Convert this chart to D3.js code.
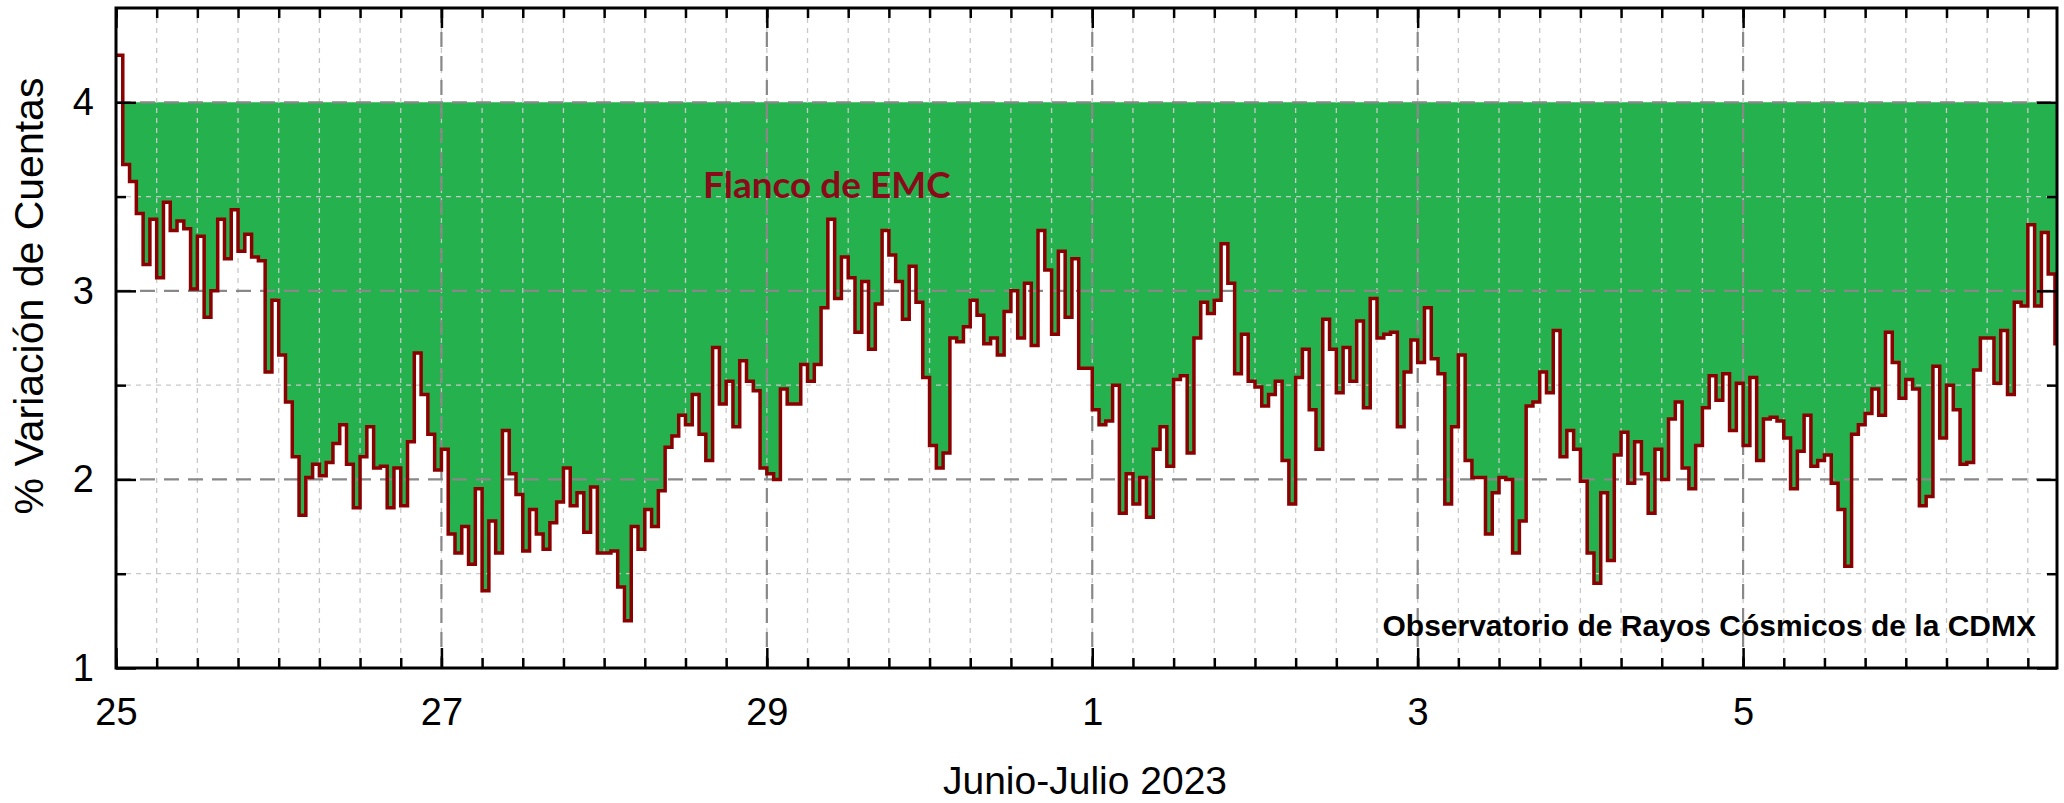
<!DOCTYPE html>
<html>
<head>
<meta charset="utf-8">
<script src="https://cdnjs.cloudflare.com/ajax/libs/d3/7.8.5/d3.min.js"></script>
<style>
  body { margin: 0; background: #fff; }
  svg { display: block; }
</style>
</head>
<body>
<div id="viz"></div>
<script>

// hourly % variation, one array per day (Junio 25 ... Julio 6)
var jun25 = [4.25,3.67,3.58,3.41,3.14,3.38,3.07,3.47,3.32,3.37,3.33,3.01,3.29,2.86,3.00,3.38,3.17,3.43,3.21,3.30,3.18,3.16,2.57,2.95];
var jun26 = [2.66,2.41,2.12,1.81,2.01,2.08,2.02,2.09,2.19,2.29,2.08,1.85,2.12,2.28,2.06,2.07,1.85,2.06,1.86,2.20,2.67,2.45,2.24,2.05];
var jun27 = [2.16,1.71,1.61,1.75,1.55,1.95,1.41,1.78,1.61,2.26,2.03,1.92,1.62,1.84,1.71,1.63,1.77,1.88,2.06,1.86,1.93,1.72,1.96,1.61];
var jun28 = [1.61,1.62,1.43,1.25,1.75,1.63,1.84,1.75,1.94,2.17,2.23,2.34,2.29,2.45,2.24,2.10,2.70,2.40,2.52,2.28,2.63,2.52,2.47,2.06];
var jun29 = [2.03,2.00,2.48,2.40,2.40,2.61,2.52,2.61,2.91,3.38,2.96,3.18,3.07,2.78,3.05,2.69,2.93,3.32,3.19,3.05,2.85,3.13,2.94,2.54];
var jun30 = [2.18,2.06,2.14,2.75,2.73,2.81,2.95,2.87,2.72,2.75,2.66,2.89,3.00,2.75,3.04,2.71,3.32,3.11,2.77,3.21,2.86,3.17,2.59,2.59];
var jul01 = [2.37,2.29,2.31,2.50,1.82,2.03,1.87,2.01,1.80,2.16,2.28,2.07,2.53,2.55,2.14,2.75,2.94,2.88,2.95,3.25,3.04,2.56,2.77,2.52];
var jul02 = [2.49,2.39,2.45,2.52,2.10,1.87,2.54,2.69,2.37,2.16,2.85,2.69,2.46,2.70,2.52,2.84,2.38,2.96,2.75,2.77,2.78,2.28,2.57,2.74];
var jul03 = [2.62,2.91,2.64,2.56,1.87,2.28,2.66,2.10,2.01,2.01,1.71,1.93,2.01,2.00,1.61,1.78,2.39,2.41,2.57,2.46,2.79,2.12,2.26,2.16];
var jul04 = [1.99,1.61,1.45,1.93,1.57,2.13,2.25,1.98,2.20,2.03,1.82,2.16,2.00,2.32,2.41,2.06,1.95,2.18,2.38,2.55,2.42,2.56,2.26,2.51];
var jul05 = [2.18,2.54,2.10,2.32,2.33,2.31,2.22,1.95,2.15,2.34,2.07,2.10,2.13,1.98,1.84,1.54,2.24,2.29,2.35,2.48,2.34,2.78,2.62,2.43];
var jul06 = [2.53,2.48,1.86,1.91,2.60,2.22,2.50,2.37,2.08,2.09,2.58,2.75,2.75,2.51,2.79,2.45,2.94,2.92,3.35,2.92,3.31,3.09,2.72];

var days = [jun25, jun26, jun27, jun28, jun29, jun30, jul01, jul02, jul03, jul04, jul05, jul06];
var tick_labels = ["25", "27", "29", "1", "3", "5"];
var y_ticks = [1, 2, 3, 4];
var y_minor = [1.5, 2.5, 3.5];
var base_level = 4;

var W = 2064, H = 803,
    margin = {top: 8, right: 7, bottom: 135, left: 116},
    width = W - margin.left - margin.right,
    height = H - margin.top - margin.bottom;

var t0 = Date.UTC(2023, 5, 25),
    hour = 3600 * 1000,
    t_end = new Date(t0 + 286.3 * hour);

var data = [];
days.forEach(function(day, i){
    day.forEach(function(v, h){
        data.push({t: new Date(t0 + (i * 24 + h) * hour), v: v});
    });
});
// hold the last value until the edge of the plot
var steps = data.concat([{t: t_end, v: data[data.length - 1].v}]);

var x = d3.scaleUtc()
    .domain([new Date(t0), t_end])
    .range([0, width]);

var y = d3.scaleLinear()
    .domain([1, 4.5])
    .range([height, 0]);

var major_dates = tick_labels.map(function(d, i){ return new Date(t0 + i * 48 * hour); });
var minor_dates = d3.utcHour.every(6).range(new Date(t0), t_end);

var svg = d3.select("#viz").append("svg")
        .attr("width", W)
        .attr("height", H)
        .style("font-family", "'Liberation Sans', Arial, sans-serif");

svg.append("defs").append("clipPath")
    .attr("id", "clip")
  .append("rect")
    .attr("width", width)
    .attr("height", height);

var g = svg.append("g")
    .attr("transform", "translate(" + margin.left + "," + margin.top + ")");

var plot = g.append("g").attr("clip-path", "url(#clip)");

// green band between 4 % and the counts
var area = d3.area()
    .curve(d3.curveStepAfter)
    .x(function(d){ return x(d.t); })
    .y0(y(base_level))
    .y1(function(d){ return y(Math.min(d.v, base_level)); });

plot.append("path")
    .datum(steps)
    .attr("d", area)
    .attr("fill", "#25b24e");

// minor grid
plot.selectAll(".gx-minor")
    .data(minor_dates)
  .enter().append("line")
    .attr("x1", function(d){ return x(d); })
    .attr("x2", function(d){ return x(d); })
    .attr("y1", 0)
    .attr("y2", height)
    .attr("stroke", "#c8c8c8")
    .attr("stroke-width", 1.3)
    .attr("stroke-dasharray", "5,5");

plot.selectAll(".gy-minor")
    .data(y_minor)
  .enter().append("line")
    .attr("x1", 0)
    .attr("x2", width)
    .attr("y1", function(d){ return y(d); })
    .attr("y2", function(d){ return y(d); })
    .attr("stroke", "#c8c8c8")
    .attr("stroke-width", 1.3)
    .attr("stroke-dasharray", "5,5");

// major grid
plot.selectAll(".gx-major")
    .data(major_dates)
  .enter().append("line")
    .attr("x1", function(d){ return x(d); })
    .attr("x2", function(d){ return x(d); })
    .attr("y1", 0)
    .attr("y2", height)
    .attr("stroke", "#888")
    .attr("stroke-width", 2.2)
    .attr("stroke-dasharray", "15,9");

plot.selectAll(".gy-major")
    .data(y_ticks)
  .enter().append("line")
    .attr("x1", 0)
    .attr("x2", width)
    .attr("y1", function(d){ return y(d); })
    .attr("y2", function(d){ return y(d); })
    .attr("stroke", "#888")
    .attr("stroke-width", 2.2)
    .attr("stroke-dasharray", "15,9");

// step line
var line = d3.line()
    .curve(d3.curveStepAfter)
    .x(function(d){ return x(d.t); })
    .y(function(d){ return y(d.v); });

plot.append("path")
    .datum(steps)
    .attr("d", line)
    .attr("fill", "none")
    .attr("stroke", "#8b0000")
    .attr("stroke-width", 3.5);

// axes (ticks point inward, mirrored on top and right)
var xb = g.append("g")
    .attr("transform", "translate(0," + height + ")")
    .call(d3.axisBottom(x).tickValues(minor_dates).tickSize(-10).tickFormat(""));
var xb2 = g.append("g")
    .attr("transform", "translate(0," + height + ")")
    .call(d3.axisBottom(x).tickValues(major_dates).tickSize(-20).tickPadding(30)
        .tickFormat(function(d, i){ return tick_labels[i]; }));
var xt = g.append("g")
    .call(d3.axisTop(x).tickValues(minor_dates).tickSize(-10).tickFormat(""));
var xt2 = g.append("g")
    .call(d3.axisTop(x).tickValues(major_dates).tickSize(-20).tickFormat(""));

var yl = g.append("g")
    .call(d3.axisLeft(y).tickValues(y_minor).tickSize(-10).tickFormat(""));
var yl2 = g.append("g")
    .call(d3.axisLeft(y).tickValues(y_ticks).tickSize(-20).tickPadding(22).tickFormat(d3.format("d")));
var yr = g.append("g")
    .attr("transform", "translate(" + width + ",0)")
    .call(d3.axisRight(y).tickValues(y_minor).tickSize(-10).tickFormat(""));
var yr2 = g.append("g")
    .attr("transform", "translate(" + width + ",0)")
    .call(d3.axisRight(y).tickValues(y_ticks).tickSize(-20).tickFormat(""));

[xb, xb2, xt, xt2, yl, yl2, yr, yr2].forEach(function(a){
    a.select(".domain").remove();
    a.selectAll(".tick line").attr("stroke", "#000").attr("stroke-width", 2.5);
    a.selectAll(".tick text")
        .attr("fill", "#000")
        .style("font-family", "'Liberation Sans', Arial, sans-serif")
        .style("font-size", "38px");
});
xb2.selectAll(".tick text").attr("dy", "0.71em");

// frame
g.append("rect")
    .attr("width", width)
    .attr("height", height)
    .attr("fill", "none")
    .attr("stroke", "#000")
    .attr("stroke-width", 3);

// titles
svg.append("text")
    .attr("transform", "translate(43,296) rotate(-90)")
    .attr("text-anchor", "middle")
    .style("font-size", "41px")
    .text("% Variación de Cuentas");

svg.append("text")
    .attr("x", 1085)
    .attr("y", 794)
    .attr("text-anchor", "middle")
    .style("font-size", "39px")
    .text("Junio-Julio 2023");

g.append("text")
    .attr("x", x(new Date(t0 + 86.6 * hour)))
    .attr("y", y(3.49))
    .attr("fill", "#8a0a1a")
    .style("font-family", "Lato, 'Open Sans', sans-serif")
    .style("font-weight", "bold")
    .style("font-size", "37px")
    .text("Flanco de EMC");

g.append("text")
    .attr("x", width - 21)
    .attr("y", y(1.17))
    .attr("text-anchor", "end")
    .style("font-weight", "bold")
    .style("font-size", "30px")
    .text("Observatorio de Rayos Cósmicos de la CDMX");

</script>
</body>
</html>
